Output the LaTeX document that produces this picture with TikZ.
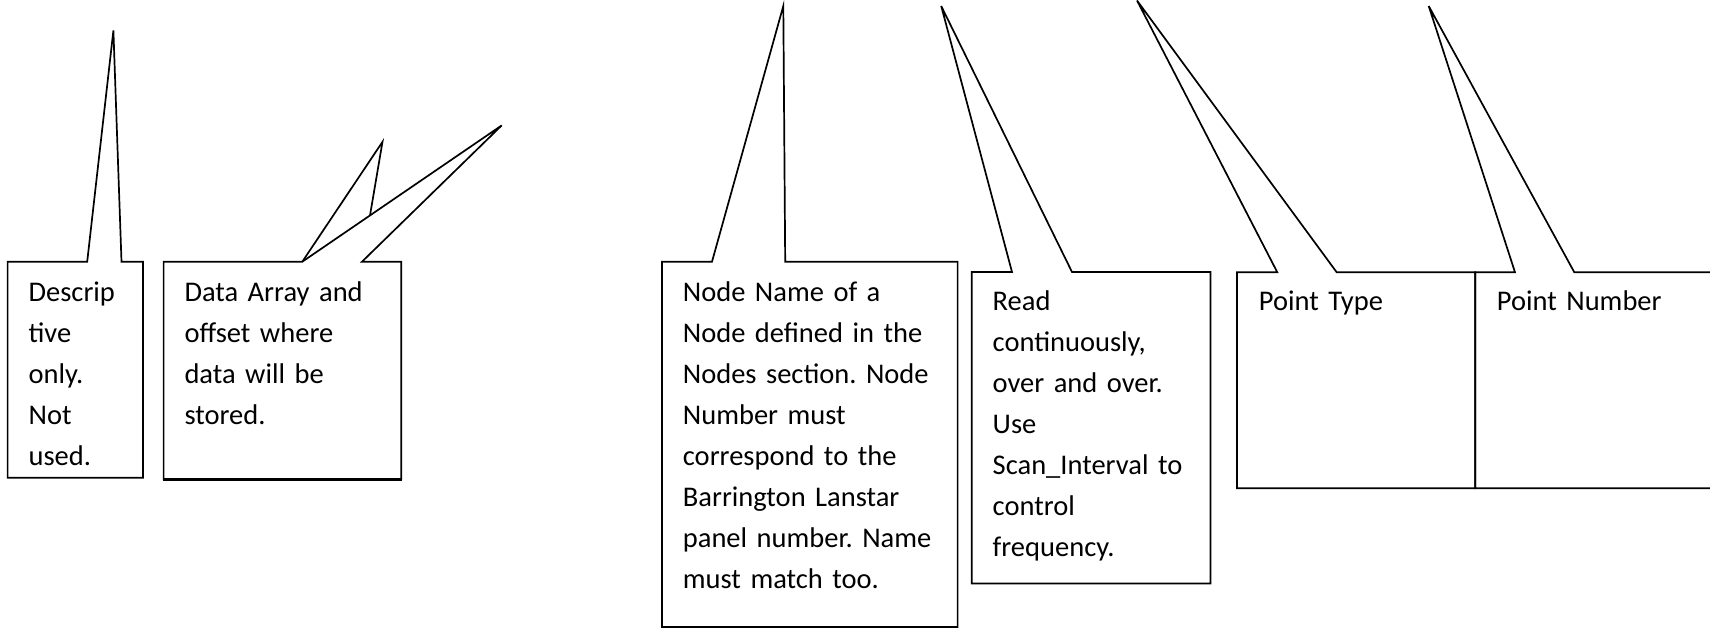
\documentclass[tikz,border=0pt]{standalone}
\usepackage{fontspec}
\setmainfont{Carlito}
\begin{document}
\frenchspacing
\begin{tikzpicture}[x=1pt,y=-1pt,
  callout/.style={draw=black,line width=1.7pt,line join=miter},
  label/.style={anchor=base west,inner sep=0pt,text width=320pt,align=left,
    font={\frenchspacing\fontsize{28.5}{41}\selectfont}}]
\useasboundingbox (0,0) rectangle (1710,629);
% box 1
\draw[callout] (7.6,261.7) -- (87.2,261.7) -- (113.4,30.5) -- (121.5,261.7) -- (142.9,261.7)
  -- (142.9,477.7) -- (7.6,477.7) -- cycle;
\node[label] (t1) at (28.4,301) {Descrip\\tive\\only.\\Not\\used.};
% box 2
\draw[callout] (163.6,261.7) -- (302.3,261.7) -- (501.7,125.4) -- (362,261.7) -- (401.3,261.7)
  -- (401.3,479) -- (163.6,479) -- cycle;
\draw[callout] (302.3,261.7) -- (382.5,141.8) -- (370,215.4);
\draw[line width=3.2pt] (162.8,479.3) -- (402.1,479.3);
\node[label] (t2) at (184.3,301) {Data Array and\\offset where\\data will be\\stored.};
% box 3
\draw[callout] (662,261.7) -- (712,261.7) -- (783.3,6) -- (785.2,261.7) -- (957.6,261.7)
  -- (957.6,627) -- (662,627) -- cycle;
\node[label] (t3) at (682.7,301) {Node Name of a\\Node defined in the\\Nodes section. Node\\Number must\\correspond to the\\Barrington Lanstar\\panel number. Name\\must match too.};
% box 4
\draw[callout] (971.7,272) -- (1012,272) -- (941.2,6) -- (1072,272) -- (1210.5,272)
  -- (1210.5,583.5) -- (971.7,583.5) -- cycle;
\node[label] (t4) at (992.5,310.7) {Read\\continuously,\\over and over.\\Use\\Scan\_Interval to\\control\\frequency.};
% box 5
\draw[callout] (1237,272.3) -- (1277.3,272.3) -- (1137,0.5) -- (1336.7,272.3) -- (1475.3,272.3)
  -- (1475.3,488.3) -- (1237,488.3) -- cycle;
\node[label] (t5) at (1258.7,310.7) {Point Type};
% box 6
\draw[callout] (1712,272.3) -- (1574.3,272.3) -- (1428.7,6) -- (1515,272.3) -- (1475.3,272.3)
  -- (1475.3,488.3) -- (1712,488.3);
\node[label] (t6) at (1496.7,310.7) {Point Number};
\end{tikzpicture}
\end{document}
